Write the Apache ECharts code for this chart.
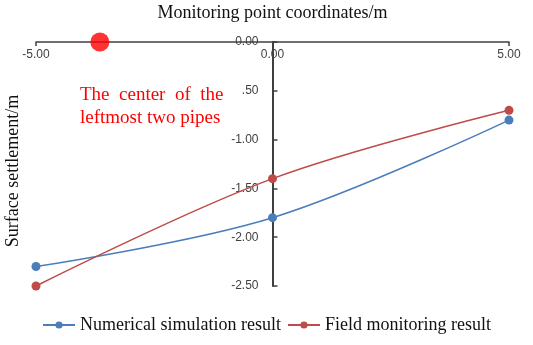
<!DOCTYPE html>
<html>
<head>
<meta charset="utf-8">
<script src="https://cdn.jsdelivr.net/npm/echarts@6/dist/echarts.min.js"></script>
<style>
  html, body { margin: 0; padding: 0; background: #fff; }
  #chart { width: 533px; height: 345px; }
</style>
</head>
<body>
<div id="chart"></div>
<script>
// 监测点坐标 (m)
const xPoints = [-5, 0, 5];
// 数值模拟结果 / 现场监测结果 (m)
const simulation = [-2.3, -1.8, -0.8];
const monitoring = [-2.5, -1.4, -0.7];
// 最左两管中心位置
const pipeCenter = [[-3.65, 0]];

const serif = '"Liberation Serif", "DejaVu Serif", serif';
const sans = '"Liberation Sans", "DejaVu Sans", sans-serif';

const gridLeft = 36, gridRight = 24;
const gridWidth = 533 - gridLeft - gridRight;

const chart = echarts.init(document.getElementById('chart'));

const option = {
  backgroundColor: '#fff',
  animation: false,
  grid: {
    left: gridLeft,
    right: gridRight,
    top: 42,
    bottom: 59,
    containLabel: false,
    outerBoundsMode: 'none'
  },
  legend: {
    bottom: 6,
    left: 'center',
    itemWidth: 32,
    itemHeight: 9,
    itemGap: 6,
    data: ['Numerical simulation result', 'Field monitoring result'],
    textStyle: { fontFamily: serif, fontSize: 18, color: '#111' }
  },
  xAxis: {
    type: 'value',
    position: 'top',
    min: -5,
    max: 5,
    interval: 5,
    name: 'Monitoring point coordinates/m',
    nameLocation: 'middle',
    nameGap: 20,
    nameTextStyle: { fontFamily: serif, fontSize: 18, color: '#111' },
    axisLine: { onZero: true, lineStyle: { color: '#404040', width: 1.5 } },
    axisTick: { show: true, inside: true, length: 4, lineStyle: { color: '#404040', width: 1.5 } },
    axisLabel: {
      inside: true,
      margin: 7,
      fontFamily: sans,
      fontSize: 12,
      color: '#404040',
      formatter: v => v.toFixed(2)
    },
    splitLine: { show: false }
  },
  yAxis: {
    type: 'value',
    min: -2.5,
    max: 0,
    interval: 0.5,
    offset: -gridWidth / 2,
    axisLine: { onZero: false, lineStyle: { color: '#404040', width: 2 } },
    axisTick: { show: true, inside: true, length: 5, lineStyle: { color: '#404040', width: 1.5 } },
    axisLabel: {
      margin: 14,
      fontFamily: sans,
      fontSize: 12,
      color: '#404040',
      formatter: v => v.toFixed(2)
    },
    splitLine: { show: false }
  },
  graphic: [
    {
      // y轴名称放在图表最左侧
      type: 'text',
      z: 10,
      x: 13,
      y: 171,
      rotation: Math.PI / 2,
      style: {
        text: 'Surface settlement/m',
        fontFamily: serif,
        fontSize: 18,
        fill: '#111',
        align: 'center',
        verticalAlign: 'middle'
      }
    },
    {
      type: 'rect',
      z: 20,
      shape: { x: 76, y: 80, width: 166, height: 50 },
      style: { fill: '#fff' }
    },
    {
      type: 'text',
      z: 21,
      x: 80,
      y: 84,
      style: {
        text: 'The  center  of  the\nleftmost two pipes',
        fontFamily: serif,
        fontSize: 19,
        lineHeight: 23,
        fill: '#ff0000'
      }
    }
  ],
  series: [
    {
      name: 'Numerical simulation result',
      type: 'line',
      smooth: 0.35,
      data: xPoints.map((x, i) => [x, simulation[i]]),
      symbol: 'circle',
      symbolSize: 9,
      color: '#4a7ebb',
      lineStyle: { color: '#4a7ebb', width: 1.5 },
      itemStyle: { color: '#4a7ebb' },
      z: 3
    },
    {
      name: 'Field monitoring result',
      type: 'line',
      smooth: 0.35,
      data: xPoints.map((x, i) => [x, monitoring[i]]),
      symbol: 'circle',
      symbolSize: 9,
      color: '#be4b48',
      lineStyle: { color: '#be4b48', width: 1.5 },
      itemStyle: { color: '#be4b48' },
      z: 3
    },
    {
      name: 'pipe',
      type: 'scatter',
      data: pipeCenter,
      symbolSize: 19,
      itemStyle: { color: '#ff0000' },
      z: 5
    }
  ]
};

chart.setOption(option);
</script>
</body>
</html>
